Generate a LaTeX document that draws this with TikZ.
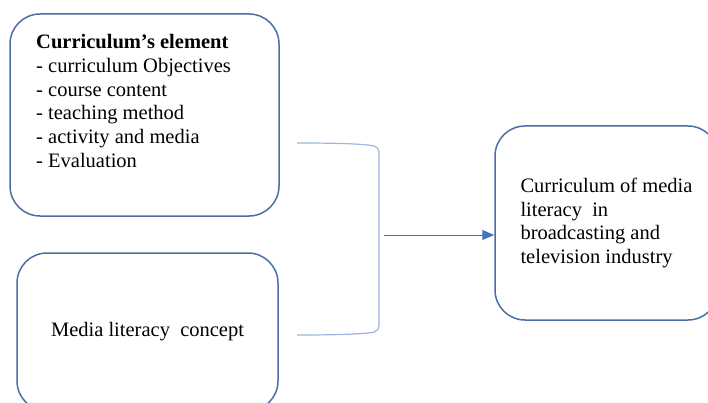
\documentclass[tikz,border=0pt]{standalone}
\usepackage{fontspec}
\setmainfont{Liberation Serif}
\usetikzlibrary{arrows.meta}
\definecolor{boxblue}{HTML}{4A6FA5}
\definecolor{linkblue}{HTML}{9DB5E0}
\definecolor{arrowblue}{HTML}{4472C4}
\begin{document}
\begin{tikzpicture}[x=1pt, y=-1pt,
    box/.style={draw=boxblue, line width=1.5pt, rounded corners=30pt, inner sep=0pt},
    boxtext/.style={align=left, inner sep=0pt, font=\fontsize{20.5}{23.8}\selectfont},
    bracket/.style={draw=linkblue, line width=1.2pt, rounded corners=5pt},
    arrowline/.style={draw=arrowblue, line width=1pt, -{Triangle[length=12pt, width=10pt]}}]
  \clip (0,0) rectangle (708,403);
  \useasboundingbox (0,0) rectangle (708,403);
  \node[box, minimum width=269pt, minimum height=202pt] (elem) at (144.5, 115) {};
  \node[boxtext, anchor=north west] (elemtext) at (36, 34)
    {\textbf{Curriculum’s element}\\- curriculum Objectives\\- course content\\- teaching method\\- activity and media\\- Evaluation};
  \node[box, boxtext, minimum width=261pt, minimum height=158pt] (concept) at (147.5, 332) {Media literacy\ \ concept};
  \node[box, boxtext, minimum width=223pt, minimum height=194pt] (result) at (606.5, 223)
    {Curriculum of media\\literacy\ \ in\\broadcasting and\\television industry};
  \coordinate (btop) at (297, 143);
  \coordinate (bbot) at (297, 335);
  \coordinate (join) at (384, 235);
  \draw[bracket] (btop) .. controls (340, 143) and (365, 144) .. (379, 147) -- (379, 331)
    .. controls (365, 334) and (340, 335) .. (bbot);
  \draw[arrowline] (join) -- (join -| result.west);
\end{tikzpicture}
\end{document}
